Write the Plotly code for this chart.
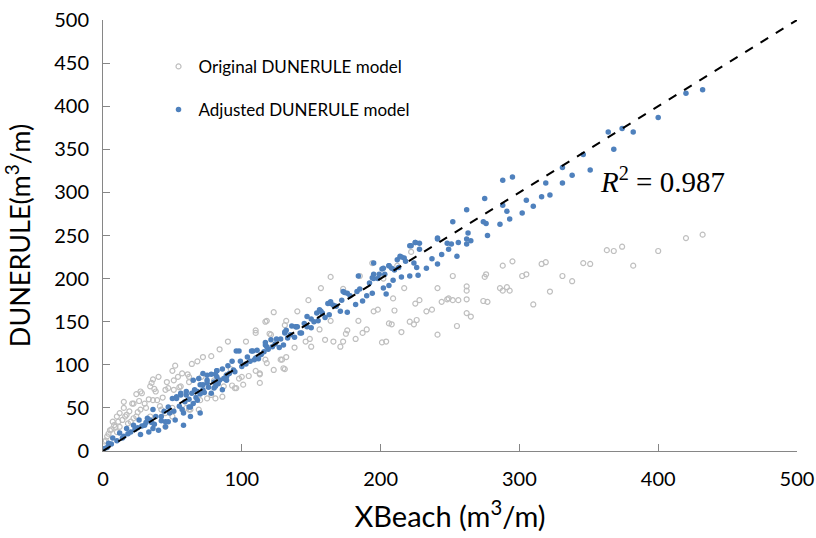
import plotly.graph_objects as go

# Original DUNERULE model (x = XBeach, y = DUNERULE)
orig_x = [432, 420, 400, 382, 374, 368, 363, 346, 351, 331, 338, 316, 319, 322, 310, 302, 305, 295, 288, 286,
          288, 291, 293, 276, 275, 274, 277, 262, 262, 262, 262, 265, 256, 252, 249, 252, 255, 244,
          248, 241, 241, 233, 237, 225, 228, 226, 221, 224, 215, 217, 212, 209, 210, 206, 208, 204, 201, 202,
          198, 195, 194, 190, 187, 182, 184, 176, 175, 173, 171, 173, 164, 157, 164, 166, 160, 156, 148, 140,
          150, 149, 146, 138, 132, 131, 222, 185,
          123, 118, 110, 110, 103, 120, 90, 84, 78, 72, 68, 64, 52, 50, 54, 51, 46, 45, 98, 100, 105, 113,
          123, 130, 128, 132, 118, 117, 96, 93, 87, 86, 117, 121,
          62, 40, 36, 35, 34, 37, 27, 24, 21, 15, 15, 12, 10, 7, 9, 5, 3, 1, 16, 27, 34, 36, 41, 51, 55, 62,
          50, 45, 50, 45, 60, 62, 69, 78, 75, 83, 89, 92, 95, 101, 110, 113, 129, 131, 113,
          28, 22, 17, 11, 38, 31, 39, 47, 56, 61, 71, 80, 70, 63, 81, 42, 20, 24,
          2, 4, 6, 8, 10, 12, 18, 22, 25, 30, 33, 14, 19, 26, 43, 57]
orig_y = [251, 247, 232, 215, 237, 232, 233, 218, 217, 203, 197, 217, 219, 185, 170, 203, 205, 220, 215, 189,
          186, 190, 186, 205, 202, 174, 173, 191, 186, 176, 160, 156, 175, 175, 177, 203, 145, 173,
          176, 189, 135, 162, 164, 171, 175, 152, 150, 147, 138, 189, 215, 177, 163, 148, 147, 127, 126, 200,
          164, 162, 218, 141, 137, 130, 151, 140, 136, 127, 121, 188, 202, 189, 151, 127, 129, 141, 175, 162,
          121, 130, 127, 120, 151, 146, 231, 203,
          161, 151, 140, 137, 127, 136, 127, 118, 110, 109, 104, 101, 99, 93, 86, 82, 80, 71, 84, 86, 87, 90,
          94, 96, 106, 109, 102, 106, 73, 76, 75, 63, 150, 135,
          86, 86, 83, 79, 75, 72, 69, 66, 55, 57, 50, 44, 40, 34, 28, 24, 17, 11, 40, 48, 40, 59, 52, 71, 74, 80,
          50, 44, 40, 28, 50, 48, 48, 65, 61, 83, 88, 95, 73, 77, 93, 89, 106, 95, 79,
          67, 55, 42, 34, 69, 50, 59, 73, 75, 89, 86, 82, 59, 48, 61, 48, 34, 40,
          12, 20, 25, 30, 22, 28, 32, 38, 45, 55, 60, 36, 46, 58, 62, 90]

# Adjusted DUNERULE model
adj_x = [432, 420, 400, 382, 374, 364, 368, 351, 346, 338, 331, 331,
         319, 322, 316, 310, 305, 302, 295, 288, 288, 291, 293, 286, 277, 276, 274, 275, 262, 263, 262, 262,
         265, 252, 256, 251, 249, 244, 255,
         241, 248, 237, 241, 233, 221, 225, 228, 228, 224, 226, 227, 221, 217, 212, 214, 210, 215, 209, 201,
         206, 195, 195, 195, 198, 202, 206, 204, 194, 190, 187, 182, 185, 184, 176, 174, 171, 176, 164, 162,
         166, 156, 158, 160, 154, 147, 150, 150, 140, 143, 131, 130, 147, 139, 142, 136, 132, 133, 128, 125,
         121, 117, 117, 122, 116, 111, 108, 112, 109, 104, 99, 98, 93, 90, 94, 86, 82, 81, 78, 72, 89, 89,
         84, 80, 75, 70, 69, 65, 72, 68, 64, 60, 56, 53, 50, 78, 86,
         75, 82, 89, 72, 80, 56, 60, 66, 53, 59, 65, 47, 51, 44, 36, 38, 32, 26, 22, 17, 12, 7, 4, 1, 27, 33,
         40, 45, 47, 52, 58, 63,
         10, 15, 20, 25, 30, 35, 42, 3, 6, 14, 18, 23, 28, 31, 34, 37, 42, 48, 55, 57, 62, 67, 70, 73, 76,
         83, 87, 91, 95, 100, 103, 106, 110, 114, 119, 124, 127, 135, 138, 145, 152, 155, 157, 163, 168,
         172, 178, 183, 192, 199, 203, 208, 213, 218,
         96, 107, 118, 131, 139, 62, 68, 81, 75, 82, 63, 70, 58, 36, 45, 241, 225, 222, 215, 202, 206, 194,
         173, 164]
adj_y = [419, 415, 387, 370, 374, 370, 350, 326, 344, 320, 329, 311,
         311, 297, 295, 284, 291, 276, 318, 314, 285, 278, 269, 263, 250, 264, 266, 293, 280, 253, 246, 240,
         244, 266, 242, 240, 234, 228, 226,
         246, 241, 223, 217, 212, 238, 242, 241, 234, 218, 213, 204, 203, 224, 222, 226, 210, 202, 198, 211,
         215, 218, 205, 200, 200, 189, 192, 182, 183, 180, 174, 170, 188, 203, 183, 184, 162, 161, 173, 171,
         169, 164, 160, 155, 160, 156, 153, 143, 144, 137, 138, 123, 144, 144, 137, 145, 140, 131, 130, 130,
         129, 126, 123, 121, 115, 117, 116, 107, 106, 109, 104, 116, 104, 99, 94, 95, 93, 89, 89, 90, 86, 82,
         82, 80, 79, 77, 84, 82, 71, 69, 67, 65, 65, 63, 61, 67, 71,
         88, 93, 88, 77, 73, 67, 69, 71, 61, 57, 55, 51, 46, 46, 48, 40, 38, 36, 30, 26, 21, 15, 9, 3, 19, 22,
         24, 28, 34, 36, 44, 51,
         12, 17, 22, 27, 30, 33, 40, 4, 8, 15, 20, 25, 29, 33, 36, 31, 35, 44, 52, 48, 60, 62, 66, 68, 74,
         78, 84, 90, 92, 98, 101, 104, 108, 112, 118, 124, 120, 135, 132, 148, 150, 151, 162, 158, 168,
         175, 180, 185, 195, 205, 205, 212, 213, 220,
         116, 116, 121, 137, 144, 51, 59, 75, 82, 86, 40, 44, 30, 26, 34, 247, 242, 238, 225, 212, 215, 201,
         185, 171]

# 1:1 reference line
line_x = [0, 500]
line_y = [0, 500]

x_ticks = [0, 100, 200, 300, 400, 500]
y_ticks = [0, 50, 100, 150, 200, 250, 300, 350, 400, 450, 500]

r2_text = "<i>R</i><sup>2</sup> = 0.987"

AXIS_GRAY = "#868686"
FONT = "Lato, 'Open Sans', sans-serif"

fig = go.Figure()
fig.add_trace(go.Scatter(
    x=orig_x, y=orig_y, mode="markers", name="Original DUNERULE model",
    legendgroup="a",
    marker=dict(symbol="circle-open", size=5, color="#BFBFBF", line=dict(width=1.2, color="#BFBFBF")),
))
fig.add_trace(go.Scatter(
    x=adj_x, y=adj_y, mode="markers", name="Adjusted DUNERULE model",
    legendgroup="b",
    marker=dict(symbol="circle", size=5.5, color="#4F81BD"),
))
fig.add_trace(go.Scatter(
    x=line_x, y=line_y, mode="lines", showlegend=False,
    line=dict(color="black", width=2, dash="dash"),
))

fig.add_annotation(
    x=356.5, y=314, xref="x", yref="y", xanchor="left", yanchor="middle",
    text=r2_text, showarrow=False,
    font=dict(family="'Liberation Serif', 'Times New Roman', serif", size=29, color="black"),
)

fig.update_layout(
    width=816, height=538,
    margin=dict(l=103, r=19, t=20, b=87, autoexpand=False),
    paper_bgcolor="white", plot_bgcolor="white",
    font=dict(family=FONT, color="black"),
    showlegend=True,
    legend=dict(
        x=0.080, y=0.933, xanchor="left", yanchor="top",
        font=dict(size=17, family=FONT, color="black"),
        bgcolor="rgba(0,0,0,0)",
        traceorder="grouped", tracegroupgap=18,
        itemsizing="trace",
    ),
)
fig.update_xaxes(
    range=[0, 500], tickvals=x_ticks, ticktext=[str(v) for v in x_ticks],
    showgrid=False, zeroline=False, automargin=False,
    showline=True, linecolor=AXIS_GRAY, linewidth=1,
    ticks="inside", ticklen=7, tickcolor=AXIS_GRAY, tickwidth=1,
    ticklabelstandoff=10, ticklabeloverflow="allow",
    tickfont=dict(size=20, family=FONT, color="black"),
    title=dict(text="XBeach (m<sup>3</sup>/m)", font=dict(size=29, family=FONT, color="black"), standoff=17),
)
fig.update_yaxes(
    range=[0, 500], tickvals=y_ticks, ticktext=[str(v) for v in y_ticks],
    showgrid=False, zeroline=False, automargin=False,
    showline=True, linecolor=AXIS_GRAY, linewidth=1,
    ticks="inside", ticklen=7, tickcolor=AXIS_GRAY, tickwidth=1,
    ticklabelstandoff=9, ticklabeloverflow="allow",
    tickfont=dict(size=20, family=FONT, color="black"),
    title=dict(text="DUNERULE(m<sup>3</sup>/m)", font=dict(size=27, family=FONT, color="black"), standoff=19),
)

# remove the default page margin so the 816x538 figure fills the window exactly
fig.write_html(
    "out.html",
    config={"displayModeBar": False},
    post_script="document.body.style.margin='0';document.documentElement.style.overflow='hidden';",
)
